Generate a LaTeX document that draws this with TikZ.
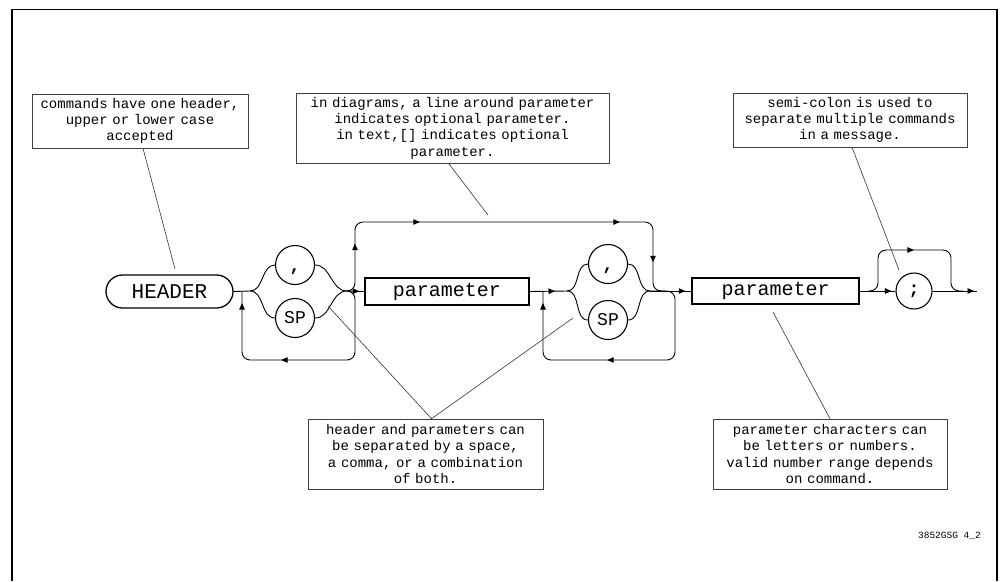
\documentclass[tikz,border=0pt]{standalone}
\usepackage{fontspec}
\setmainfont{Liberation Mono}
\usetikzlibrary{arrows.meta,decorations.markings,shapes.misc,calc}
\begin{document}
\begin{tikzpicture}[x=1pt,y=-1pt,
  line/.style={line width=0.9pt,black},
  am/.style={postaction={decorate,decoration={markings,mark=at position #1 with {\arrow{Triangle[length=6.5pt,width=5.5pt]}}}}},
  note/.style={draw=black!75,line width=0.6pt,inner sep=0pt,align=center,font=\fontsize{14}{16.3}\selectfont},
  lead/.style={line width=0.6pt,black!80},
  circ/.style={circle,draw,line width=1.1pt,minimum size=39pt,inner sep=0pt,font=\fontsize{18}{18}\selectfont},
  pbox/.style={draw,line width=1.5pt,inner sep=0pt,font=\fontsize{20}{20}\selectfont},
]
\useasboundingbox (0,0) rectangle (1000,581);
% frame
\draw[line width=1.6pt] (12,581) -- (12,9);
\draw[line width=1.6pt] (997,9) -- (997,581);
\draw[line width=0.8pt] (12,9) -- (997,9);

% notes
\node[note,text width=216pt,minimum height=54pt] (b1) at (140,121) {commands have one header,\\upper or lower case\hspace*{38pt}\\accepted\hspace*{38pt}};
\node[note,text width=313pt,minimum height=70pt] (b2) at (452.5,128) {in diagrams, a line around parameter\\indicates optional parameter.\\in text,[] indicates optional\\parameter.};
\node[note,text width=234pt,minimum height=54pt] (b3) at (850,120) {semi-colon is used to\\separate multiple commands\\in a message.};
\node[note,text width=235pt,minimum height=70pt] (b4) at (425.5,454) {header and parameters can\\be separated by a space,\\a comma, or a combination\\of both.};
\node[note,text width=234pt,minimum height=70pt] (b5) at (830,454) {parameter characters can\\be letters or numbers.\\valid number range depends\\on command.};

% syntax elements
\node[draw,rounded rectangle,line width=1.3pt,minimum width=127pt,minimum height=33pt,inner sep=0pt,font=\fontsize{21}{21}\selectfont] (h) at (169.5,291.5) {HEADER};
\node[circ] (c1) at (295,265) {\bfseries\smash{\raisebox{-6pt}{,}}};
\node[circ] (sp1) at (295,318) {SP};
\node[pbox,minimum width=164pt,minimum height=27pt] (p1) at (447,291.5) {parameter};
\node[circ] (c2) at (608,264) {\bfseries\smash{\raisebox{-6pt}{,}}};
\node[circ] (sp2) at (608,320) {SP};
\node[pbox,minimum width=167pt,minimum height=26pt] (p2) at (775.5,291) {parameter};
\node[circ,minimum size=36pt] (sc) at (914,291) {\bfseries ;};

% coordinates
\coordinate (s1) at (250,291);
\coordinate (j1) at (347,291);
\coordinate (s2) at (567,291);
\coordinate (j2) at (650,291);
\coordinate (s3) at (868,291);
\coordinate (e) at (977,291);
\coordinate (lp1a) at (355,360);
\coordinate (lp1b) at (242,291);
\coordinate (bpa) at (355,222);
\coordinate (bpb) at (653,291);
\coordinate (bpc) at (665,291);
\coordinate (lp2a) at (675,360);
\coordinate (lp2b) at (543,291);
\coordinate (sca) at (878,250);
\coordinate (scb) at (951,291);
\coordinate (scc) at (963,291);

% group 1
\draw[line] (h.east) -- (s1);
\draw[line] (s1) to[out=0,in=180] (c1.west) (c1.east) to[out=0,in=180] (j1);
\draw[line] (s1) to[out=0,in=180] (sp1.west) (sp1.east) to[out=0,in=180] (j1);
\draw[line,am=-5pt] (j1) -- (p1.west);
\draw[line,rounded corners=8pt,am=144pt,am=-12pt] (j1) -| (lp1a) -| (lp1b);
\draw[line,rounded corners=8pt,am=52pt,am=135pt,am=335pt,am=405pt] (j1) -| (bpa) -| (bpb) -- (bpc);

% group 2
\draw[line,am=-12pt] (p1.east) -- (s2);
\draw[line] (s2) to[out=0,in=180] (c2.west) (c2.east) to[out=0,in=180] (j2);
\draw[line] (s2) to[out=0,in=180] (sp2.west) (sp2.east) to[out=0,in=180] (j2);
\draw[line,am=-6pt] (j2) -- (p2.west);
\draw[line,rounded corners=8pt,am=155pt,am=-12pt] (j2) -| (lp2a) -| (lp2b);

% semicolon
\draw[line,am=-4pt] (p2.east) -- (sc.west);
\draw[line,am=-3pt] (sc.east) -- (e);
\draw[line,rounded corners=8pt,am=80pt] (s3) -| (sca) -| (scb) -- (scc);

% leaders
\coordinate (t1) at (175,269);
\coordinate (t2) at (488,215);
\coordinate (t3) at (899,270);
\coordinate (t4a) at (328,306);
\coordinate (t4b) at (573,318);
\coordinate (t5) at (773,312);
\draw[lead] ($(b1.south)+(3,0)$) -- (t1);
\draw[lead] ($(b2.south)+(-4,0)$) -- (t2);
\draw[lead] ($(b3.south)+(2,0)$) -- (t3);
\draw[lead] (t4a) -- ($(b4.north)+(6,0)$) -- (t4b);
\draw[lead] (b5.north) -- (t5);

\node[font=\fontsize{9.5}{10}\selectfont,anchor=east,inner sep=0pt] (lab) at (981,536) {3852GSG 4\_2};
\end{tikzpicture}
\end{document}
